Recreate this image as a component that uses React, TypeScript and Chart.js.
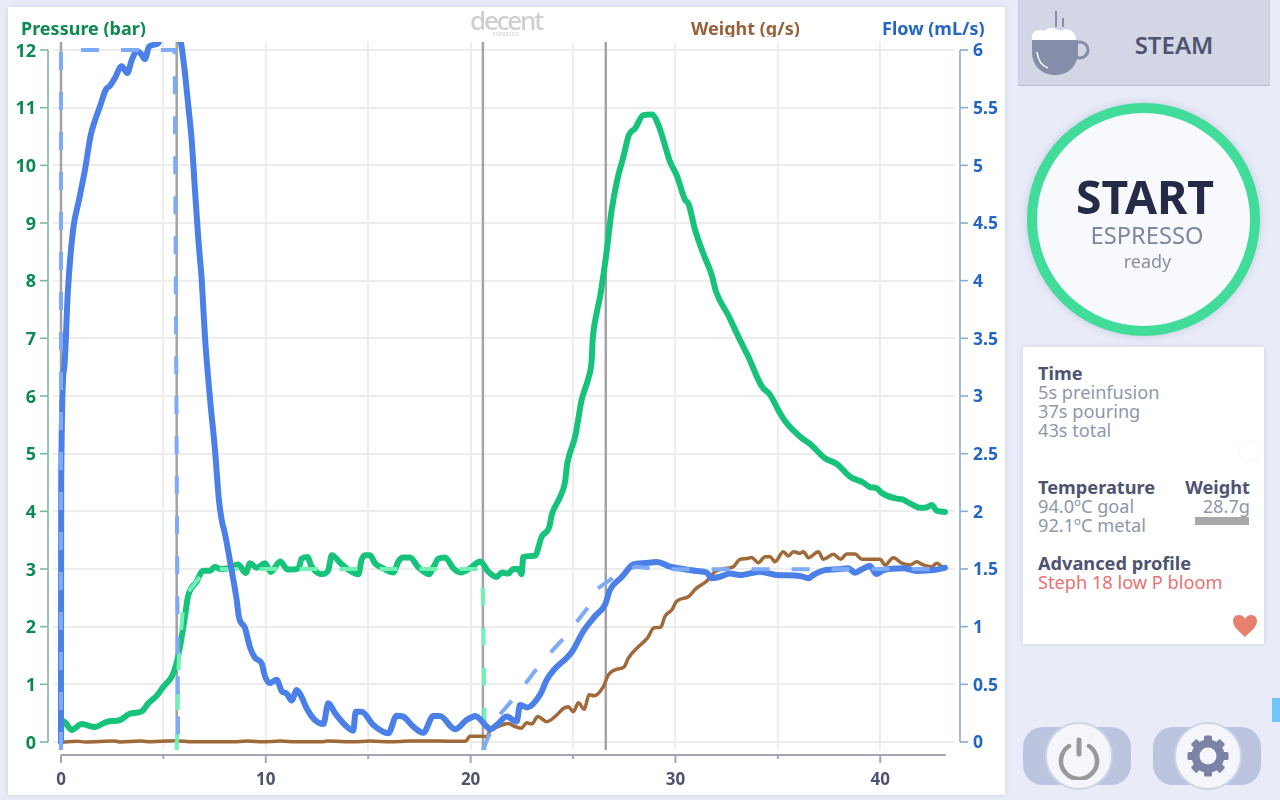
import React, { useEffect, useRef } from "react";
import { Chart, registerables } from "chart.js";

Chart.register(...registerables);

// [seconds, bar]
const pressure: number[][] = [
  [0,0],[0.02,0.37],[0.2,0.34],[0.52,0.21],[1.01,0.31],[1.66,0.26],[2.23,0.35],[2.88,0.38],[3.37,0.49],[3.94,0.53],
  [4.26,0.67],[4.67,0.8],[5,0.96],[5.4,1.13],[5.6,1.31],[5.8,1.63],[6.05,2.17],[6.2,2.52],[6.62,2.78],[6.94,2.97],
  [7.28,2.97],[7.52,3.04],[7.76,3],[8.25,3.02],[8.65,3.08],[9.02,2.93],[9.23,3.1],[9.55,3.02],[9.96,3.1],[10.24,2.95],
  [10.7,3.13],[11.02,3],[11.18,2.99],[11.59,3.01],[11.75,3.18],[12.03,3.21],[12.24,3.04],[12.73,2.91],[13.05,2.98],[13.22,3.24],
  [13.62,3.11],[14.11,2.97],[14.52,2.91],[14.68,3.16],[14.84,3.24],[15.09,3.24],[15.33,3.1],[15.74,3.01],[16.23,2.94],[16.47,3.13],
  [16.71,3.2],[17.04,3.2],[17.45,3.03],[17.97,2.91],[18.21,3.05],[18.43,3.18],[18.75,3.2],[19.16,3.01],[19.52,2.94],[19.97,3.01],
  [20.46,3.13],[20.87,2.95],[21.27,2.86],[21.52,2.94],[21.84,2.92],[22.08,3],[22.33,3],[22.49,2.91],[22.57,3.21],[23.14,3.23],
  [23.47,3.56],[23.84,3.73],[23.96,3.94],[24.37,4.25],[24.61,4.51],[24.72,4.83],[25.1,5.29],[25.42,5.93],[25.75,6.31],[25.91,6.62],
  [25.96,6.97],[26.15,7.43],[26.32,7.72],[26.61,8.42],[26.89,9.23],[27.16,9.75],[27.46,10.15],[27.73,10.53],[28.03,10.64],[28.43,10.87],
  [28.84,10.88],[29.17,10.7],[29.41,10.44],[29.74,10.06],[30.06,9.83],[30.47,9.4],[30.63,9.34],[30.96,8.88],[31.36,8.47],[31.77,8.1],
  [31.98,7.81],[32.58,7.4],[33.07,7.03],[33.56,6.68],[34.21,6.17],[34.62,6.02],[35.11,5.7],[35.43,5.53],[36.17,5.27],[36.57,5.17],
  [37.3,4.92],[37.88,4.82],[38.53,4.6],[39.17,4.5],[39.5,4.42],[39.83,4.4],[40.07,4.32],[40.8,4.22],[41.05,4.21],[41.54,4.12],
  [41.94,4.06],[42.27,4.07],[42.51,4.11],[42.76,4.01],[43.16,3.99],
];

// [seconds, bar]
const pressureGoal: (number | null)[][] = [
  [5.65,-0.14],[5.72,0.9],[5.76,1.54],[5.94,2.23],[6.2,2.6],[6.8,2.87],[7.44,3],[20.5,3],[20.6,2.6],[20.7,-0.14],
];

// [seconds, mL/s]
const flow: number[][] = [
  [0,0],[0.01,2.27],[0.15,3.23],[0.34,3.92],[0.59,4.44],[0.88,4.7],[1.17,4.96],[1.45,5.26],[1.66,5.39],[1.9,5.51],
  [2.2,5.66],[2.39,5.69],[2.64,5.76],[2.96,5.86],[3.24,5.8],[3.45,5.91],[3.7,5.99],[3.89,5.97],[4.1,5.92],[4.3,6.03],
  [4.75,6.06],[5,6.2],[5.4,6.35],[5.86,6.06],[6,5.88],[6.22,5.51],[6.38,5.22],[6.54,4.79],[6.71,4.35],[6.87,4.01],
  [7.03,3.51],[7.28,2.97],[7.52,2.53],[7.71,2.1],[7.85,1.92],[8,1.81],[8.33,1.49],[8.58,1.23],[8.69,1.08],[8.98,0.99],
  [9.23,0.82],[9.47,0.73],[9.8,0.68],[9.96,0.57],[10.2,0.51],[10.53,0.54],[10.78,0.44],[11.02,0.42],[11.26,0.36],[11.51,0.45],
  [11.75,0.39],[12,0.29],[12.4,0.19],[12.81,0.156],[13.05,0.335],[13.38,0.25],[13.87,0.147],[14.27,0.098],[14.39,0.263],[14.68,0.263],
  [15.25,0.147],[15.98,0.075],[16.39,0.228],[16.71,0.22],[17.2,0.133],[17.69,0.08],[18.18,0.225],[18.5,0.225],[19.24,0.11],[19.8,0.19],
  [20.13,0.22],[20.22,0.225],[20.79,0.133],[20.95,0.11],[21.35,0.16],[21.76,0.22],[22.25,0.176],[22.41,0.32],[22.77,0.3],[23.39,0.41],
  [23.72,0.54],[24.04,0.62],[24.94,0.78],[25.5,0.96],[26.07,1.09],[26.56,1.19],[26.81,1.32],[27.38,1.43],[27.95,1.54],[28.43,1.55],
  [29.09,1.56],[29.74,1.52],[30.39,1.5],[31.04,1.483],[31.53,1.468],[31.77,1.42],[32.18,1.433],[32.67,1.46],[33.15,1.448],[34.13,1.477],
  [34.94,1.448],[36.08,1.44],[36.49,1.42],[36.73,1.448],[37.3,1.49],[37.88,1.497],[38.44,1.506],[38.77,1.468],[39.1,1.497],[39.5,1.526],
  [39.8,1.457],[40.15,1.49],[41.13,1.506],[41.78,1.483],[42.6,1.49],[43.16,1.511],
];

// [seconds, mL/s]; null marks the break in the goal trace
const flowGoal: (number | null)[][] = [
  [0,-0.07],[0,6],[5.55,6],[5.72,-0.07],[5.72,null],[20.6,null],[20.6,-0.07],[21.2,0.19],[22.33,0.425],[23.44,0.685],[24.7,0.93],
  [25.83,1.19],[26.2,1.33],[27.38,1.477],[28.1,1.52],[29.1,1.497],[43.16,1.5],
];

// [seconds, g/s]
const weight: number[][] = [
  [0.1,0],[0.8,0.006],[1.2,0],[2.6,0.008],[2.9,0],[3.9,0.008],[4.4,0.002],[5.2,0.008],[5.6,0.01],[6.3,0.002],
  [8.4,0.002],[9.1,0.008],[9.9,0.002],[10.7,0.008],[11.5,0.002],[12.7,0.002],[13,0.008],[14.3,0.002],[15.1,0.008],[16.1,0.002],
  [17,0.008],[17.6,0.008],[18.4,0.008],[19.5,0.006],[19.75,0.006],[19.97,0.05],[20.54,0.05],[20.79,0.046],[20.95,0.1],[21.35,0.133],
  [21.84,0.16],[22.17,0.133],[22.49,0.12],[22.73,0.167],[22.98,0.156],[23.28,0.22],[23.72,0.176],[24.12,0.22],[24.53,0.29],[24.77,0.306],
  [25.02,0.263],[25.26,0.34],[25.55,0.283],[25.78,0.41],[26.03,0.4],[26.48,0.48],[26.72,0.58],[27.13,0.63],[27.49,0.65],[27.7,0.726],
  [28.19,0.826],[28.63,0.9],[28.96,0.99],[29.28,0.995],[29.49,1.09],[29.82,1.145],[30.06,1.22],[30.63,1.26],[31,1.33],[31.53,1.396],
  [31.93,1.477],[32.5,1.506],[32.83,1.52],[33.15,1.584],[33.48,1.59],[33.72,1.6],[34.05,1.555],[34.38,1.607],[34.62,1.607],[34.86,1.563],
  [35.27,1.65],[35.51,1.613],[35.76,1.65],[36.08,1.636],[36.25,1.65],[36.49,1.598],[36.98,1.65],[37.22,1.584],[37.71,1.627],[38.07,1.584],
  [38.36,1.63],[38.77,1.63],[39.1,1.584],[40,1.584],[40.23,1.535],[40.64,1.598],[41.05,1.55],[41.45,1.535],[41.78,1.563],[42.1,1.535],
  [42.51,1.52],[42.76,1.55],[43.08,1.506],
];

const stepTimes = [0, 5.65, 20.6, 26.6];
const xTicks = [0, 5, 10, 15, 20, 25, 30, 35, 40];
const xLabels = [0, 10, 20, 30, 40];
const pressureTicks = [0, 1, 2, 3, 4, 5, 6, 7, 8, 9, 10, 11, 12];
const flowTicks = [0, 0.5, 1, 1.5, 2, 2.5, 3, 3.5, 4, 4.5, 5, 5.5, 6];
const X_MIN = -0.39, X_MAX = 43.65, X_END = 43.2;

const toXY = (rows: (number | null)[][]) => rows.map(([x, y]) => ({ x, y }));
const stepPoints = stepTimes.flatMap((t) => [{ x: t, y: -1 }, { x: t, y: 13 }, { x: t, y: null }]);

const FONT = '"Noto Sans", sans-serif';

const rangeAxes = {
  id: "rangeAxes",
  afterDatasetsDraw(chart: any) {
    const { ctx, chartArea: a, scales } = chart;
    const line = (x1: number, y1: number, x2: number, y2: number) => {
      ctx.beginPath(); ctx.moveTo(x1, y1); ctx.lineTo(x2, y2); ctx.stroke();
    };
    ctx.save();
    ctx.lineWidth = 1.6;
    ctx.strokeStyle = "#7fb89e";
    const lx = a.left - 5;
    line(lx, scales.y.getPixelForValue(0), lx, scales.y.getPixelForValue(12));
    pressureTicks.forEach((v) => { const p = scales.y.getPixelForValue(v); line(lx - 8, p, lx, p); });
    ctx.strokeStyle = "#8aabd3";
    const rx = a.right + 5;
    line(rx, scales.y2.getPixelForValue(0), rx, scales.y2.getPixelForValue(6));
    flowTicks.forEach((v) => { const p = scales.y2.getPixelForValue(v); line(rx, p, rx + 8, p); });
    ctx.strokeStyle = "#a3a5b4";
    ctx.lineWidth = 2;
    const by = a.bottom + 5;
    line(scales.x.getPixelForValue(0), by, scales.x.getPixelForValue(X_END), by);
    xTicks.forEach((v) => {
      const p = scales.x.getPixelForValue(v);
      line(p, by, p, by + (xLabels.includes(v) ? 8 : 4));
    });
    ctx.restore();
  },
};

const Title = ({ left, width, color, children }: any) => (
  <div style={{ position: "absolute", left, top: 16, width, height: 21, overflow: "hidden", color, fontWeight: 700, fontSize: 18, lineHeight: "25px", whiteSpace: "nowrap" }}>{children}</div>
);

const T = ({ x, y, right, size = 18.2, weight = 400, color = "#8e98aa", children }: any) => (
  <div style={{ position: "absolute", left: right === undefined ? x : undefined, right: right === undefined ? undefined : 1280 - right, top: y - 15, height: 30, lineHeight: "30px", fontSize: size, fontWeight: weight, color, whiteSpace: "nowrap" }}>{children}</div>
);

const Center = ({ x, y, size, weight = 400, color, children }: any) => (
  <div style={{ position: "absolute", left: x - 150, width: 300, textAlign: "center", top: y - 40, height: 80, lineHeight: "80px", fontSize: size, fontWeight: weight, color, whiteSpace: "nowrap" }}>{children}</div>
);

const Pill = ({ left, cx }: any) => (
  <>
    <div style={{ position: "absolute", left, top: 727, width: 108, height: 58, borderRadius: 20, background: "#bcc4e0" }} />
    <div style={{ position: "absolute", left: cx - 34, top: 722, width: 64, height: 64, borderRadius: "50%", background: "#f5f6fc", border: "2px solid #ced3e6" }} />
  </>
);

export default function App() {
  const ref = useRef<HTMLCanvasElement>(null);
  useEffect(() => {
    const line = { pointRadius: 0, pointHoverRadius: 0, tension: 0, borderJoinStyle: "round", borderCapStyle: "round", fill: false, spanGaps: false };
    const curve = { ...line, cubicInterpolationMode: "monotone" };
    const chart = new Chart(ref.current!, {
      type: "line",
      data: {
        datasets: [
          { ...line, label: "Steps", data: stepPoints, xAxisID: "x", yAxisID: "y", borderColor: "#a3a3a3", borderWidth: 2.5, borderCapStyle: "butt", order: 6 },
          { ...curve, label: "Weight (g/s)", data: toXY(weight), xAxisID: "x", yAxisID: "y2", borderColor: "#a0693a", borderWidth: 3.5, order: 5 },
          { ...curve, label: "Pressure (bar)", data: toXY(pressure), xAxisID: "x", yAxisID: "y", borderColor: "#17c27b", borderWidth: 6, order: 4 },
          { ...line, label: "Pressure goal", data: toXY(pressureGoal), xAxisID: "x", yAxisID: "y", borderColor: "#70f2b4", borderWidth: 4, borderDash: [18, 22], borderCapStyle: "butt", order: 3 },
          { ...curve, label: "Flow (mL/s)", data: toXY(flow), xAxisID: "x", yAxisID: "y2", borderColor: "#4a80e8", borderWidth: 6, order: 2 },
          { ...line, label: "Flow goal", data: toXY(flowGoal), xAxisID: "x", yAxisID: "y2", borderColor: "#7eabf7", borderWidth: 4, borderDash: [18, 22], borderCapStyle: "butt", order: 1 },
        ],
      } as any,
      options: {
        responsive: false,
        animation: false,
        events: [],
        layout: { padding: { top: 35, left: 0, right: 0, bottom: 0 } },
        plugins: { legend: { display: false }, title: { display: false }, tooltip: { enabled: false } },
        scales: {
          x: {
            type: "linear", min: X_MIN, max: X_MAX, position: "bottom",
            afterBuildTicks: (s: any) => { s.ticks = xTicks.map((value) => ({ value })); },
            afterFit: (s: any) => { s.height = 45; },
            grid: { color: "#ededed", lineWidth: 2, drawTicks: false },
            border: { display: false },
            ticks: { padding: 20, autoSkip: false, maxRotation: 0, color: "#4f5470", font: { family: FONT, size: 17, weight: "bold" }, callback: (v: any) => (xLabels.includes(v) ? String(v) : "") },
          },
          y: {
            type: "linear", min: -0.139, max: 12.139, position: "left",
            afterBuildTicks: (s: any) => { s.ticks = pressureTicks.map((value) => ({ value })); },
            afterFit: (s: any) => { s.width = 45; },
            grid: { color: "#ededed", lineWidth: 2, drawTicks: false },
            border: { display: false },
            ticks: { padding: 17, labelOffset: 1.5, autoSkip: false, color: "#0c8a50", font: { family: FONT, size: 18, weight: "bold" }, callback: (v: any) => String(v) },
          },
          y2: {
            type: "linear", min: -0.0695, max: 6.0695, position: "right",
            afterBuildTicks: (s: any) => { s.ticks = flowTicks.map((value) => ({ value })); },
            afterFit: (s: any) => { s.width = 50; },
            grid: { display: false, drawTicks: false },
            border: { display: false },
            ticks: { padding: 18, labelOffset: 1.5, autoSkip: false, color: "#2466c4", font: { family: FONT, size: 17.5, weight: "bold" }, callback: (v: any) => String(v) },
          },
        },
      } as any,
      plugins: [rangeAxes],
    } as any);
    return () => chart.destroy();
  }, []);

  return (
    <div style={{ position: "fixed", left: 0, top: 0, width: 1280, height: 800, overflow: "hidden", background: "#e9ecf8", fontFamily: FONT }}>
      <div style={{ position: "absolute", left: 8, top: 7, width: 997, height: 788, background: "#fff", boxShadow: "0 0 5px rgba(120,130,170,0.25)" }} />
      <canvas ref={ref} width={997} height={788} style={{ position: "absolute", left: 8, top: 7, width: 997, height: 788 }} />

      <Title left={21} width={130} color="#0c8a50">Pressure (bar)</Title>
      <Title left={691} width={115} color="#96623a">Weight (g/s)</Title>
      <Title left={882} width={110} color="#2466c4">Flow (mL/s)</Title>

      <div style={{ position: "absolute", left: 466, top: 3, width: 80, textAlign: "center", fontSize: 26, fontWeight: 500, lineHeight: "34px", letterSpacing: -2.2, color: "#d0cfcd" }}>decent</div>
      <div style={{ position: "absolute", left: 466, top: 31, width: 80, textAlign: "center", fontSize: 5, lineHeight: "7px", letterSpacing: 0.3, color: "#d0cfcd" }}>ESPRESSO</div>

      {/* steam button */}
      <div style={{ position: "absolute", left: 1018, top: -3, width: 252, height: 89, background: "#d3d7e5", borderBottom: "1px solid #b6bbcd", borderLeft: "1px solid #c9cddd", borderRight: "1px solid #c9cddd", boxSizing: "border-box" }} />
      <svg style={{ position: "absolute", left: 1028, top: 8 }} width="66" height="72" viewBox="0 0 66 72">
        <rect x="27" y="3" width="2" height="16" fill="#868da9" />
        <rect x="34" y="10" width="2" height="9" fill="#868da9" />
        <path d="M4 32 C2 24 10 20 16 23 C20 18 28 20 32 23 C38 19 48 22 48 32 Z" fill="#fff" />
        <path d="M4 32 H50 V44 C50 58 40 67 27 67 C14 67 4 58 4 44 Z" fill="#868da9" />
        <circle cx="52" cy="42" r="8" fill="none" stroke="#868da9" strokeWidth="3" />
        <path d="M9 44 C10 52 14 58 20 60" fill="none" stroke="#fff" strokeWidth="1.5" />
      </svg>
      <Center x={1174} y={45} size={24} weight={600} color="#4f5470">STEAM</Center>

      {/* start button */}
      <div style={{ position: "absolute", left: 1027, top: 103, width: 233, height: 233, boxSizing: "border-box", borderRadius: "50%", background: "#f8f9fd", border: "10px solid #41dc9a", boxShadow: "0 0 8px rgba(110,120,160,0.3)" }} />
      <Center x={1145} y={197} size={46.3} weight={700} color="#252b47">START</Center>
      <Center x={1147} y={235} size={23.7} color="#7d879f">ESPRESSO</Center>
      <Center x={1147.5} y={261} size={18} color="#8d8f99">ready</Center>

      {/* info card */}
      <div style={{ position: "absolute", left: 1023, top: 347, width: 241, height: 297, background: "#fff", boxShadow: "0 0 5px rgba(120,130,170,0.25)" }} />
      <T x={1038} y={373} weight={700} color="#4f5470">Time</T>
      <T x={1038} y={392}>5s preinfusion</T>
      <T x={1038} y={411}>37s pouring</T>
      <T x={1038} y={430}>43s total</T>
      <T x={1038} y={487} weight={700} color="#4f5470">Temperature</T>
      <T x={1038} y={506}>94.0ºC goal</T>
      <T x={1038} y={525}>92.1ºC metal</T>
      <T right={1250} y={487} weight={700} color="#4f5470">Weight</T>
      <T right={1250} y={506}>28.7g</T>
      <div style={{ position: "absolute", left: 1195, top: 517, width: 54, height: 8, background: "#a9a9a9" }} />
      <div style={{ position: "absolute", left: 1238, top: 440, width: 22, height: 22, boxSizing: "border-box", borderRadius: "50%", border: "1px solid #f6f6f6" }} />
      <T x={1038} y={563} weight={700} color="#4f5470">Advanced profile</T>
      <T x={1038} y={582} color="#ea7272">Steph 18 low P bloom</T>
      <svg style={{ position: "absolute", left: 1233, top: 615 }} width="24" height="23" viewBox="0 0 24 23">
        <path d="M12 22 C7 17 0 12 0 6 C0 2 3 0 6 0 C9 0 11 2 12 4 C13 2 15 0 18 0 C21 0 24 2 24 6 C24 12 17 17 12 22 Z" fill="#e8806f" />
      </svg>

      {/* bottom buttons */}
      <Pill left={1023} cx={1079} />
      <Pill left={1153} cx={1208} />
      <svg style={{ position: "absolute", left: 1055, top: 732 }} width="48" height="48" viewBox="0 0 48 48">
        <path d="M14 14 A18 18 0 1 0 34 14" fill="none" stroke="#999" strokeWidth="4.5" strokeLinecap="round" />
        <line x1="24" y1="8" x2="24" y2="22" stroke="#999" strokeWidth="5" strokeLinecap="round" />
      </svg>
      <svg style={{ position: "absolute", left: 1184, top: 732 }} width="48" height="48" viewBox="0 0 48 48">
        <circle cx="24" cy="24" r="12.5" fill="none" stroke="#7b83a6" strokeWidth="8" />
        {[0, 45, 90, 135, 180, 225, 270, 315].map((r) => (
          <rect key={r} x="20" y="3.5" width="8" height="7" rx="1.5" fill="#7b83a6" transform={`rotate(${r} 24 24)`} />
        ))}
      </svg>
      <div style={{ position: "absolute", left: 1272, top: 698, width: 8, height: 24, background: "#6ec6fb" }} />
    </div>
  );
}
